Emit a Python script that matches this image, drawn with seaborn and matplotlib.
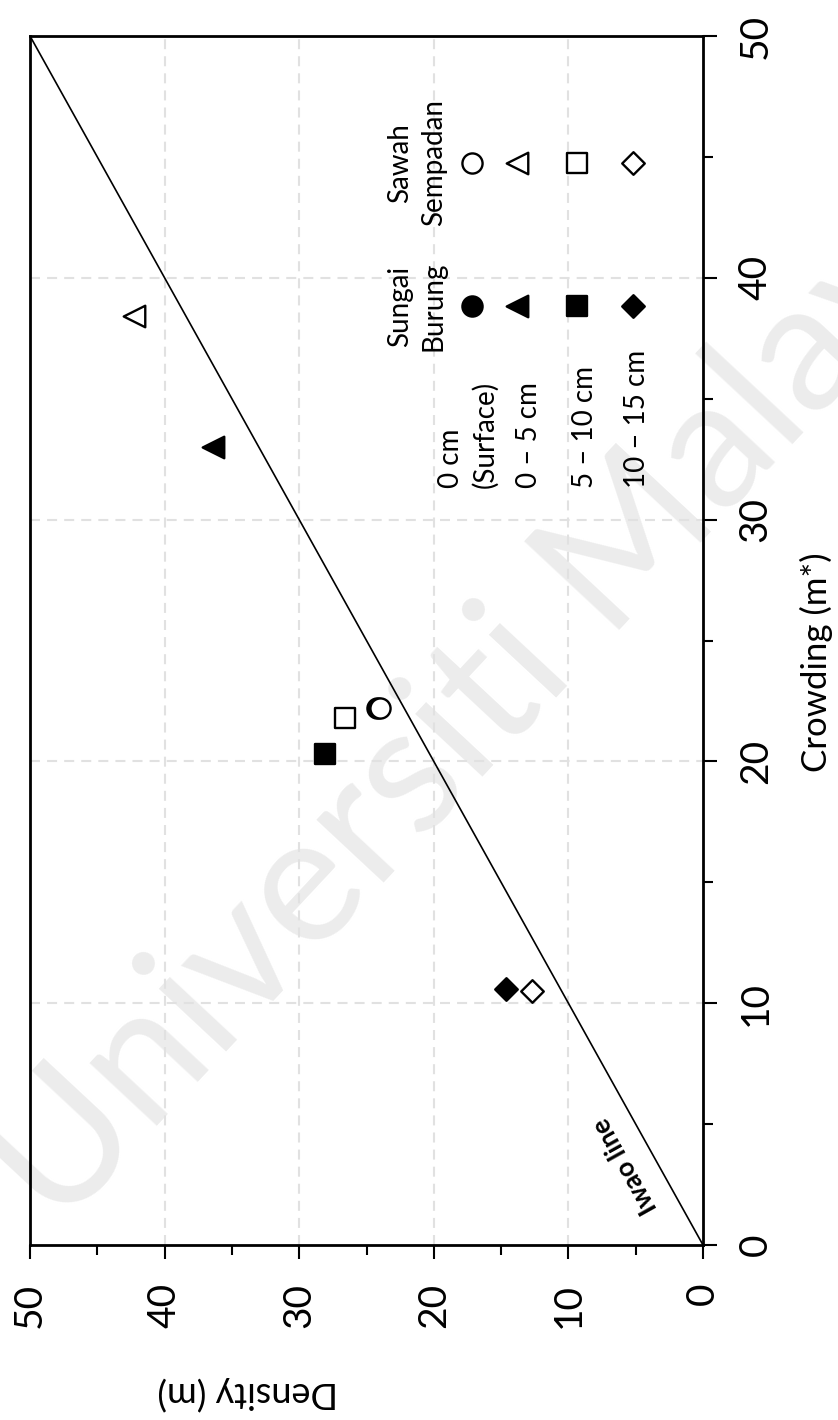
import numpy as np
import matplotlib
matplotlib.use("Agg")
import matplotlib.pyplot as plt
from matplotlib.ticker import FixedLocator
import seaborn as sns

# ---- data -------------------------------------------------------------
depths = ["0 cm\n(Surface)", "0 – 5 cm", "5 – 10 cm", "10 – 15 cm"]
sites = ["Sungai\nBurung", "Sawah\nSempadan"]

crowding_sungai = [22.2, 33.0, 20.3, 10.6]
density_sungai = [24.2, 36.4, 28.1, 14.6]
crowding_sawah = [22.2, 38.4, 21.8, 10.5]
density_sawah = [24.0, 42.3, 26.6, 12.7]

iwao_x = [0, 50]
iwao_y = [0, 50]

major_ticks = [0, 10, 20, 30, 40, 50]
minor_ticks = [5, 15, 25, 35, 45]

# ---- style ------------------------------------------------------------
sns.set_theme(style="white")
plt.rcParams["font.family"] = ["Lato", "DejaVu Sans"]
plt.rcParams["axes.unicode_minus"] = False

markers = ["o", "<", "s", "D"]
sizes = [14.5, 15.5, 14.0, 11.5]          # marker sizes in points
edge_w = 1.7

fig = plt.figure(figsize=(8.38, 14.2), dpi=100)
fig.patch.set_facecolor("white")
ax = fig.add_axes([30 / 838, 1 - 1245 / 1420, 673 / 838, 1209 / 1420])
ax.patch.set_alpha(0)

# faint watermark behind the plot
fig.text(58 / 838, 1 - 1232 / 1420, "Universiti Malaya", rotation=47,
         rotation_mode="anchor", ha="left", va="baseline",
         fontsize=130, color="#ececec", zorder=-5)

# The page is turned: horizontal axis = Density (reversed), vertical axis = Crowding
ax.set_xlim(50, 0)
ax.set_ylim(0, 50)

# dashed grid at the major ticks
for v in major_ticks[1:-1]:
    ax.axvline(v, color="#e1e1e1", lw=1.5, ls=(0, (4.8, 3.4)), zorder=0)
    ax.axhline(v, color="#e1e1e1", lw=1.5, ls=(0, (4.8, 3.4)), zorder=0)

# Iwao line (m = m*)
sns.lineplot(x=iwao_x, y=iwao_y, color="black", lw=1.2, ax=ax, zorder=2,
             sort=False)

# data points
for i in range(len(depths)):
    sns.scatterplot(x=[density_sungai[i]], y=[crowding_sungai[i]],
                    marker=markers[i], s=sizes[i] ** 2, color="black",
                    edgecolor="black", linewidth=edge_w, ax=ax, zorder=3)
for i in range(len(depths)):
    sns.scatterplot(x=[density_sawah[i]], y=[crowding_sawah[i]],
                    marker=markers[i], s=sizes[i] ** 2, color="white",
                    edgecolor="black", linewidth=edge_w, ax=ax, zorder=4)

ax.set_xlim(50, 0)
ax.set_ylim(0, 50)
ax.set_xlabel("")
ax.set_ylabel("")

# spines and ticks
for sp in ax.spines.values():
    sp.set_visible(True)
    sp.set_color("black")
    sp.set_linewidth(2.0)

ax.xaxis.set_major_locator(FixedLocator(major_ticks))
ax.xaxis.set_minor_locator(FixedLocator(minor_ticks))
ax.yaxis.set_major_locator(FixedLocator(major_ticks))
ax.yaxis.set_minor_locator(FixedLocator(minor_ticks))
ax.set_xticklabels([str(t) for t in major_ticks])
ax.set_yticklabels([str(t) for t in major_ticks])

ax.yaxis.tick_right()
ax.tick_params(axis="both", which="both", direction="out", color="black",
               width=1.5)
ax.tick_params(axis="both", which="major", length=10, labelsize=28,
               labelcolor="black")
ax.tick_params(axis="both", which="minor", length=7)
ax.tick_params(axis="x", which="both", bottom=True, top=False, pad=17)
ax.tick_params(axis="y", which="both", left=False, right=True,
               labelleft=False, labelright=True, pad=15)
for lab in ax.get_xticklabels():
    lab.set_rotation(90)
    lab.set_ha("center")
    lab.set_va("top")
for lab in ax.get_yticklabels():
    lab.set_rotation(90)
    lab.set_ha("left")
    lab.set_va("center")

# axis titles
fig.text(816 / 838, 1 - 662 / 1420, "Crowding (m*)", rotation=90,
         ha="center", va="center", fontsize=25, color="black")
fig.text(248 / 838, 1 - 1393 / 1420, "Density (m)", rotation=180,
         ha="center", va="center", fontsize=26, color="black")

# Iwao line label, parallel to the line
p0 = ax.transData.transform((iwao_x[0], iwao_y[0]))
p1 = ax.transData.transform((iwao_x[1], iwao_y[1]))
angle = np.degrees(np.arctan2(p1[1] - p0[1], p1[0] - p0[0]))
ax.text(5.8, 3.3, "Iwao line", rotation=angle, rotation_mode="anchor",
        ha="center", va="center", fontsize=19, fontweight="bold",
        color="black", zorder=5)

# ---- key (drawn in axes fraction) -------------------------------------
def fx(px):
    return (px - 30) / 673


def fy(py):
    return (1245 - py) / 1209


site_rows = [306, 163]
key_cols = [472, 517, 577, 633]
label_cols = [468, 529, 585, 637]

for name, row in zip(sites, site_rows):
    ax.text(fx(417), fy(row), name, transform=ax.transAxes, rotation=90,
            ha="center", va="center", multialignment="center",
            fontsize=20, linespacing=1.35, color="black")

for i, d in enumerate(depths):
    ax.text(fx(label_cols[i]), fy(488), d, transform=ax.transAxes,
            rotation=90, ha="center", va="bottom", multialignment="left",
            fontsize=20, linespacing=1.35, color="black")
    ax.scatter([fx(key_cols[i])], [fy(site_rows[0])], marker=markers[i],
               s=sizes[i] ** 2, color="black", edgecolor="black",
               linewidth=edge_w, transform=ax.transAxes, clip_on=False,
               zorder=5)
    ax.scatter([fx(key_cols[i])], [fy(site_rows[1])], marker=markers[i],
               s=sizes[i] ** 2, color="white", edgecolor="black",
               linewidth=edge_w, transform=ax.transAxes, clip_on=False,
               zorder=5)

fig.savefig("out.png", dpi=100, facecolor="white")
